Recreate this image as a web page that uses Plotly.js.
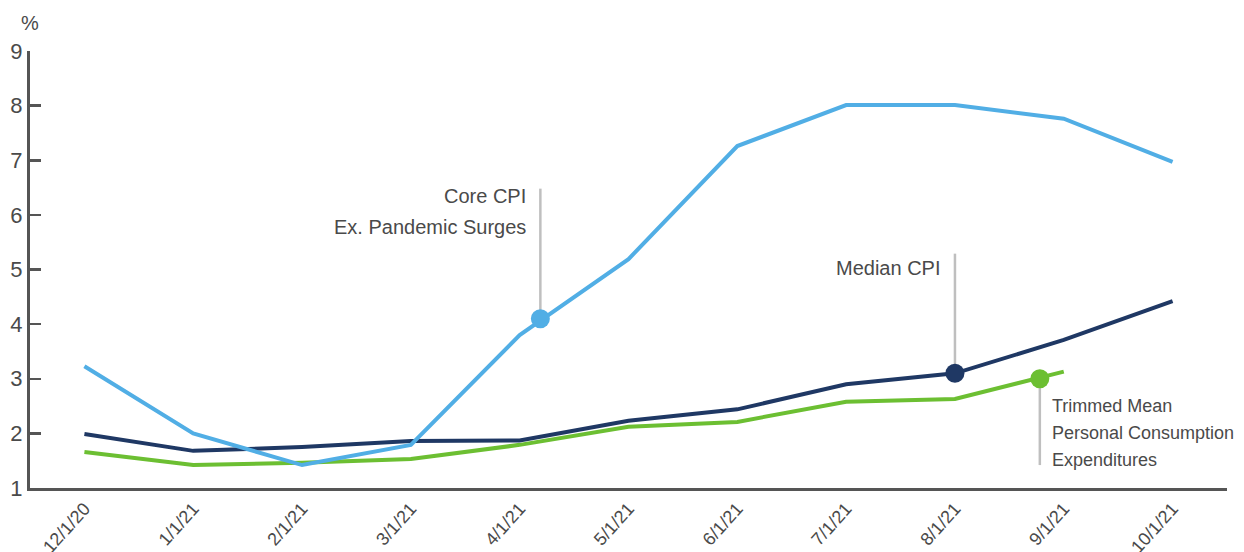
<!DOCTYPE html>
<html><head><meta charset="utf-8">
<script src="https://cdn.plot.ly/plotly-3.0.1.min.js"></script>
<style>html,body{margin:0;padding:0;background:#fff}#chart{width:1244px;height:552px}</style>
</head><body><div id="chart"></div><script>
const categories = ["12/1/20","1/1/21","2/1/21","3/1/21","4/1/21","5/1/21","6/1/21","7/1/21","8/1/21","9/1/21","10/1/21"];
const coreCpiExSurges = [3.23, 2.00, 1.42, 1.79, 3.80, 5.19, 7.26, 8.01, 8.01, 7.76, 6.97];
const medianCpi = [1.99, 1.68, 1.75, 1.86, 1.87, 2.23, 2.44, 2.90, 3.10, 3.71, 4.42];
const trimmedMeanPce = [1.66, 1.42, 1.46, 1.53, 1.79, 2.12, 2.21, 2.58, 2.63, 3.13];
const yTicks = [1, 2, 3, 4, 5, 6, 7, 8, 9];
// callout points: position in months after 12/1/20, and value (%)
const calloutNames = ["Core CPI", "Median CPI", "Trimmed Mean PCE"];
const calloutX = [4.19, 8, 8.78];
const calloutY = [4.1, 3.1, 3.0];
const leaderEndY = [6.48, 5.29, 1.42];

const FONT = "'Liberation Sans', Arial, Helvetica, sans-serif";
const TXT = '#4a4a4a';
const colors = ['#51AEE5', '#1F3864', '#6CBF32'];
const idx = arr => arr.map((_, i) => i);

const traces = [
  {x: idx(trimmedMeanPce), y: trimmedMeanPce, mode: 'lines', line: {color: colors[2], width: 4}, name: 'Trimmed Mean PCE'},
  {x: idx(medianCpi), y: medianCpi, mode: 'lines', line: {color: colors[1], width: 4}, name: 'Median CPI'},
  {x: idx(coreCpiExSurges), y: coreCpiExSurges, mode: 'lines', line: {color: colors[0], width: 4}, name: 'Core CPI Ex. Pandemic Surges'},
  {x: calloutX, y: calloutY, mode: 'markers', marker: {color: colors, size: 19}, name: 'callouts'}
];

const shapes = calloutX.map((cx, i) => ({
  type: 'line', xref: 'x', yref: 'y', x0: cx, x1: cx, y0: calloutY[i], y1: leaderEndY[i],
  line: {color: '#BFBFBF', width: 2.5}, layer: 'below'
}));

const ann = (text, x, y, xanchor, xshift, size) => ({
  text, x, y, xref: 'x', yref: 'y', xanchor, yanchor: 'middle', xshift, showarrow: false,
  font: {family: FONT, size, color: TXT}
});

const annotations = [
  ann('Core CPI', calloutX[0], 6.35, 'right', -12, 20),
  ann('Ex. Pandemic Surges', calloutX[0], 5.78, 'right', -12, 20),
  ann('Median CPI', calloutX[1], 5.03, 'right', -12, 20),
  ann('Trimmed Mean', calloutX[2], 2.50, 'left', 10, 18),
  ann('Personal Consumption', calloutX[2], 2.01, 'left', 10, 18),
  ann('Expenditures', calloutX[2], 1.51, 'left', 10, 18),
  {text: '%', xref: 'paper', yref: 'paper', x: 0, y: 1, xanchor: 'center', yanchor: 'middle', yshift: 28, showarrow: false,
   font: {family: FONT, size: 20, color: TXT}}
];

const layout = {
  width: 1244, height: 552,
  margin: {l: 30, r: 17, t: 51, b: 64},
  paper_bgcolor: '#fff', plot_bgcolor: '#fff',
  showlegend: false,
  font: {family: FONT, color: TXT},
  xaxis: {
    range: [-0.5, categories.length - 0.5], tickmode: 'array', tickvals: idx(categories), ticktext: categories,
    tickangle: -48, tickfont: {family: FONT, size: 18, color: TXT},
    showline: true, linecolor: '#555', linewidth: 3, ticks: '', showgrid: false, zeroline: false, fixedrange: true
  },
  yaxis: {
    range: [1, 9], tickmode: 'array', tickvals: yTicks, ticktext: yTicks.map(String),
    tickfont: {family: FONT, size: 22, color: TXT},
    showline: true, linecolor: '#555', linewidth: 3, ticks: 'inside', ticklen: 11, tickwidth: 2.5, tickcolor: '#555',
    showgrid: false, zeroline: false, fixedrange: true
  },
  shapes, annotations
};

Plotly.newPlot('chart', traces, layout, {displayModeBar: false, staticPlot: true});
</script></body></html>
